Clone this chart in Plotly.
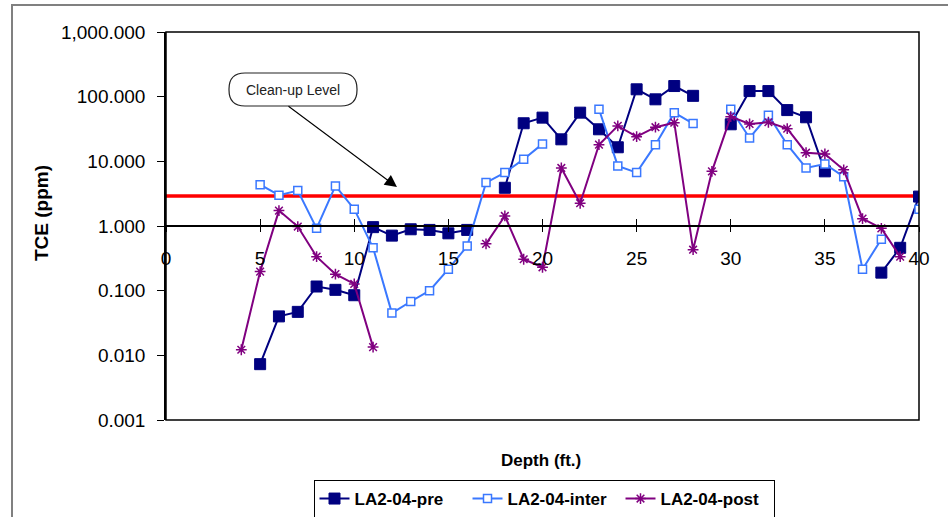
import math
import plotly.graph_objects as go

# ---------------- data ----------------
depth = list(range(4, 41))  # ft

pre = [None, 0.0073, 0.040, 0.047, 0.116, 0.103, 0.085, 0.96, 0.71, 0.89,
       0.87, 0.77, 0.87, None, 3.9, 38.8, 47.4, 21.9, 56.6, 31.3,
       16.5, 130, 91, 146, 103, None, 37.4, 122, 122, 62,
       48, 7.0, None, None, 0.19, 0.46, 2.85]

inter = [None, 4.36, 3.0, 3.53, 0.92, 4.17, 1.82, 0.46, 0.045, 0.068,
         0.10, 0.215, 0.49, 4.69, 6.69, 10.8, 18.6, None, None, 63.9,
         8.5, 6.69, 18.1, 56.6, 38.3, None, 63.9, 23, 51.5, 18.1,
         7.9, 9.1, 5.8, 0.215, 0.625, None, 1.82]

post = [0.0122, 0.197, 1.73, 0.98, 0.336, 0.18, 0.127, 0.0134, None, None,
        None, None, None, 0.53, 1.43, 0.306, 0.23, 7.9, 2.25, 18.1,
        35.3, 24.1, 33.7, 39.6, 0.43, 7.0, 49.1, 37.8, 40.2, 32,
        13.6, 13.0, 7.4, 1.30, 0.92, 0.336, None]

cleanup_depth = [0, 40]
cleanup_level = 2.9

y_tickvals = [0.001, 0.01, 0.1, 1, 10, 100, 1000]
y_ticktext = ["0.001", "0.010", "0.100", "1.000", "10.000", "100.000", "1,000.000"]
x_tickvals = [0, 5, 10, 15, 20, 25, 30, 35, 40]

series_names = ["LA2-04-pre", "LA2-04-inter", "LA2-04-post"]

# ---------------- styling ----------------
FONT = "Liberation Sans, Arial, sans-serif"
NAVY = "#000080"
BLUE = "#3A78FF"
PURPLE = "#800080"

W, H = 948, 517
L, R, T, B = 166, 29, 32, 97
PW, PH = W - L - R, H - T - B


def px(xp):
    return (xp - L) / PW


def py(yp):
    return (H - B - yp) / PH


fig = go.Figure()

fig.add_trace(go.Scatter(
    x=cleanup_depth, y=[cleanup_level] * len(cleanup_depth), mode="lines",
    line=dict(color="#FF0000", width=3.5), showlegend=False, hoverinfo="skip"))

fig.add_trace(go.Scatter(
    x=depth, y=pre, name=series_names[0], mode="lines+markers",
    line=dict(color=NAVY, width=2),
    marker=dict(symbol="square", size=11, color=NAVY, line=dict(color=NAVY, width=1))))

fig.add_trace(go.Scatter(
    x=depth, y=inter, name=series_names[1], mode="lines+markers",
    line=dict(color=BLUE, width=2),
    marker=dict(symbol="square", size=8, color="white", line=dict(color=BLUE, width=1.5))))

fig.add_trace(go.Scatter(
    x=depth, y=post, name=series_names[2], mode="lines+markers",
    line=dict(color=PURPLE, width=2),
    marker=dict(symbol="asterisk-open", size=9, color=PURPLE, line=dict(color=PURPLE, width=1.5))))

# overlay axis for the upper half of the crossing x ticks
fig.add_trace(go.Scatter(x=[0, 40], y=[1, 1], xaxis="x2", mode="lines",
                         line=dict(width=0), showlegend=False, hoverinfo="skip"))

# rounded callout box
x0, x1, y0, y1, rr = 229, 357, 73, 106, 16
pts = [
    ("M", [(x0 + rr, y0)]),
    ("L", [(x1 - rr, y0)]),
    ("Q", [(x1, y0), (x1, y0 + rr)]),
    ("L", [(x1, y1 - rr)]),
    ("Q", [(x1, y1), (x1 - rr, y1)]),
    ("L", [(x0 + rr, y1)]),
    ("Q", [(x0, y1), (x0, y1 - rr)]),
    ("L", [(x0, y0 + rr)]),
    ("Q", [(x0, y0), (x0 + rr, y0)]),
]
path = ""
for cmd, ps in pts:
    path += cmd + " ".join(f"{px(a):.5f},{py(b):.5f}" for a, b in ps) + " "
path += "Z"

shapes = [
    # outer chart frame
    dict(type="rect", xref="paper", yref="paper", x0=px(12), x1=px(980), y0=py(560), y1=py(5),
         line=dict(color="#808080", width=2), fillcolor="rgba(0,0,0,0)", layer="below"),
    # plot area frame
    dict(type="rect", xref="paper", yref="paper", x0=0, x1=1, y0=0, y1=1,
         line=dict(color="black", width=1.5), fillcolor="rgba(0,0,0,0)"),
    dict(type="path", xref="paper", yref="paper", path=path,
         line=dict(color="#222222", width=1.2), fillcolor="white"),
]

annotations = [
    dict(text="Clean-up Level", xref="paper", yref="paper", x=px((x0 + x1) / 2), y=py((y0 + y1) / 2),
         xanchor="center", yanchor="middle",
         showarrow=False, font=dict(family=FONT, size=14, color="#222222")),
    dict(text="", xref="x", yref="y", x=12.27, y=math.log10(4.0), ax=-110, ay=-82,
         showarrow=True, arrowhead=2, arrowsize=2.2, arrowwidth=1.1, arrowcolor="black", standoff=0),
    dict(text="<b>Depth (ft.)</b>", xref="paper", yref="paper", x=px(541), y=py(460),
         xanchor="center", yanchor="middle",
         showarrow=False, font=dict(family=FONT, size=17, color="black")),
    dict(text="<b>TCE (ppm)</b>", xref="paper", yref="paper", x=px(41), y=py(213),
         xanchor="center", yanchor="middle",
         showarrow=False, textangle=-90, font=dict(family=FONT, size=19, color="black")),
]

fig.update_layout(
    width=W, height=H,
    margin=dict(l=L, r=R, t=T, b=B, autoexpand=False),
    paper_bgcolor="white", plot_bgcolor="white",
    font=dict(family=FONT, color="black"),
    showlegend=True,
    legend=dict(orientation="h", x=0.502, xanchor="center", y=py(480), yanchor="top",
                bordercolor="black", borderwidth=1, bgcolor="white",
                font=dict(family=FONT, size=17, color="black", weight="bold"),
                itemwidth=30, tracegroupgap=0, entrywidth=108),
    xaxis=dict(range=[0, 40], anchor="free", position=0.5, tickvals=x_tickvals,
               showline=True, linecolor="black", linewidth=1.5,
               ticks="outside", ticklen=5, tickcolor="black", tickwidth=1,
               ticklabelstandoff=10, automargin=False,
               tickfont=dict(family=FONT, size=19, color="black"),
               showgrid=False, zeroline=False),
    xaxis2=dict(range=[0, 40], anchor="free", position=0.5, overlaying="x", side="bottom",
                tickvals=x_tickvals, showticklabels=False, showline=False,
                ticks="inside", ticklen=7, tickcolor="black", tickwidth=1, automargin=False,
                showgrid=False, zeroline=False),
    yaxis=dict(type="log", range=[-3, 3], tickvals=y_tickvals, ticktext=y_ticktext,
               showline=True, linecolor="black", linewidth=1.5,
               ticks="outside", ticklen=7, tickcolor="black", tickwidth=1, automargin=False,
               ticklabelstandoff=8,
               tickfont=dict(family=FONT, size=19, color="black"),
               showgrid=False, zeroline=False),
    shapes=shapes,
    annotations=annotations,
)

fig.write_html("out.html", config={"displayModeBar": False},
               post_script="document.body.style.margin='0';")
